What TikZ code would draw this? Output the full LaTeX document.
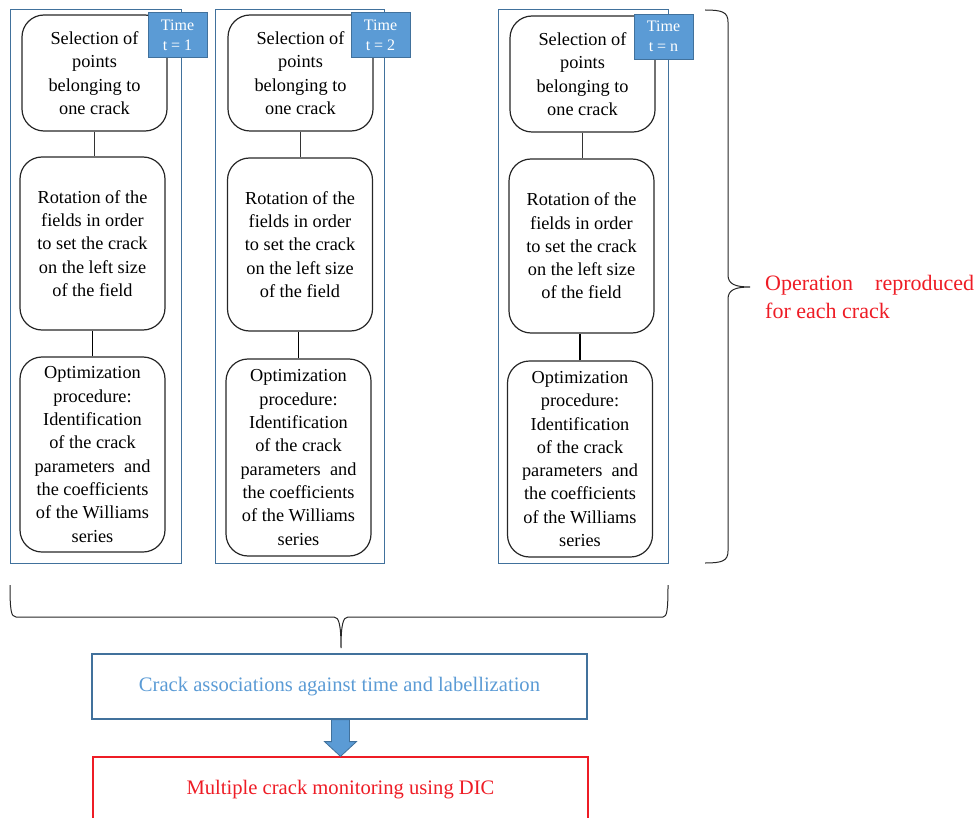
\documentclass[tikz,border=0pt]{standalone}
\usepackage{fontspec}
\setmainfont{Liberation Serif}
\usetikzlibrary{calc}
\definecolor{colblue}{HTML}{41719C}
\definecolor{tagfill}{HTML}{5B9BD5}
\definecolor{lblue}{HTML}{5B9BD5}
\definecolor{myred}{HTML}{EE1C25}
\begin{document}
\begin{tikzpicture}[x=1pt,y=-1pt,
  colbox/.style={draw=colblue, line width=1pt, rectangle, inner sep=0pt},
  stepbox/.style={draw=black!85, line width=1.2pt, rounded corners=22pt, rectangle, align=center,
    font=\fontsize{18.3}{23.3}\selectfont, inner sep=0pt, minimum width=145pt},
  tag/.style={fill=tagfill, draw=colblue, line width=0.8pt, text=white, align=center,
    font=\fontsize{16}{20}\selectfont, minimum width=59pt, minimum height=45pt, inner sep=0pt},
  thinlink/.style={draw=black!80, line width=0.8pt},
  thicklink/.style={draw=black, line width=1.5pt},
  bracepath/.style={draw=black!85, line width=1pt},
  wide/.style={rectangle, minimum width=495pt, inner sep=0pt, font=\fontsize{20.6}{24}\selectfont}
]
\useasboundingbox (0,0) rectangle (979,818);
\clip (0,0) rectangle (979,818);

% column frames
\node[colbox, minimum width=171pt, minimum height=553pt] (c1) at (95.5,286.5) {};
\node[colbox, minimum width=169pt, minimum height=553pt] (c2) at (299.5,286.5) {};
\node[colbox, minimum width=170pt, minimum height=553pt] (c3) at (583,286.5) {};

% column 1
\node[stepbox, minimum height=116pt] (a1) at (94.5,73) {Selection of\\points\\belonging to\\one crack};
\node[stepbox, minimum height=173pt] (a2) at (92.5,243.5) {Rotation of the\\fields in order\\to set the crack\\on the left size\\of the field};
\node[stepbox, minimum height=195pt] (a3) at (92.5,454.5) {Optimization\\procedure:\\Identification\\of the crack\\parameters\ \ and\\the coefficients\\of the Williams\\series};
\draw[thinlink] (a1.south) -- (a1.south |- a2.north);
\draw[thicklink] (a3.north) -- (a3.north |- a2.south);
\node[tag] (t1) at (177.5,35) {Time\\t = 1};

% column 2
\node[stepbox, minimum height=116pt] (b1) at (300.5,73) {Selection of\\points\\belonging to\\one crack};
\node[stepbox, minimum height=173pt] (b2) at (300,244.5) {Rotation of the\\fields in order\\to set the crack\\on the left size\\of the field};
\node[stepbox, minimum height=197pt] (b3) at (298.5,457.5) {Optimization\\procedure:\\Identification\\of the crack\\parameters\ \ and\\the coefficients\\of the Williams\\series};
\draw[thinlink] (b1.south) -- (b1.south |- b2.north);
\draw[thicklink] (b3.north) -- (b3.north |- b2.south);
\node[tag] (t2) at (380.5,35) {Time\\t = 2};

% column 3
\node[stepbox, minimum height=116pt] (d1) at (582.5,74) {Selection of\\points\\belonging to\\one crack};
\node[stepbox, minimum height=174pt] (d2) at (581.5,246) {Rotation of the\\fields in order\\to set the crack\\on the left size\\of the field};
\node[stepbox, minimum height=196pt] (d3) at (580,459) {Optimization\\procedure:\\Identification\\of the crack\\parameters\ \ and\\the coefficients\\of the Williams\\series};
\draw[thinlink] (d1.south) -- (d1.south |- d2.north);
\draw[thicklink] (d3.north) -- (d3.north |- d2.south);
\node[tag] (t3) at (663.5,36.5) {Time\\t = n};

% right brace
\draw[bracepath] (705,10) .. controls (722,10) and (728,12) .. (728,22) -- (728,275)
  .. controls (728,284) and (735,287) .. (750,287)
  .. controls (735,287) and (728,290) .. (728,299) -- (728,551)
  .. controls (728,561) and (722,563) .. (705,563);
\node[anchor=west, text=myred, font=\fontsize{22}{28}\selectfont, align=left, inner sep=0pt] (oper) at (765,297) {Operation\hspace{1em}reproduced\\for each crack};

% bottom brace
\draw[bracepath] (10,585) .. controls (10,610) and (11,617) .. (16,617) -- (334,617)
  .. controls (339,617) and (341,625) .. (341,648)
  .. controls (341,625) and (343,617) .. (348,617) -- (663,617)
  .. controls (667,617) and (668,610) .. (668,585);

% bottom boxes
\node[wide, draw=colblue, line width=1.2pt, minimum height=65pt, text=lblue] (assoc) at (339.5,686.5) {Crack associations against time and labellization};
\node[wide, draw=myred, line width=1.2pt, minimum height=66pt, text=myred] (monit) at (340.5,790) {Multiple crack monitoring using DIC};

% block arrow
\filldraw[fill=tagfill, draw=colblue, line width=0.8pt]
  ($(assoc.south)+(-8,0)$) -- ($(assoc.south)+(10,0)$) -- ($(assoc.south)+(10,22)$)
  -- ($(assoc.south)+(17,22)$) -- ($(assoc.south |- monit.north)+(1,0)$)
  -- ($(assoc.south)+(-15,22)$) -- ($(assoc.south)+(-8,22)$) -- cycle;
\end{tikzpicture}
\end{document}
